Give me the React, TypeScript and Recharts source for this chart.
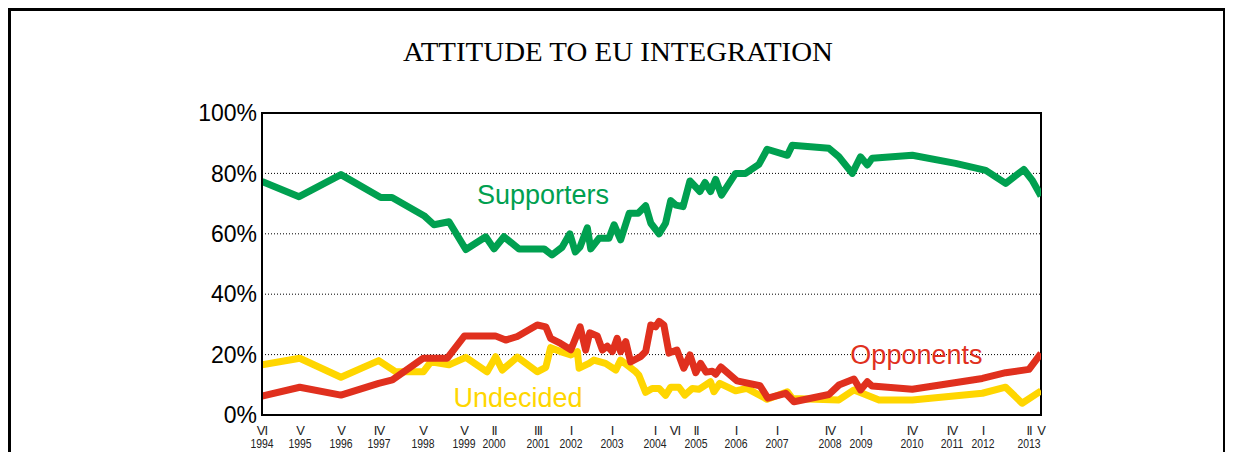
import React from 'react';
import { LineChart, Line, XAxis, YAxis, CartesianGrid, ReferenceArea, ReferenceDot } from 'recharts';

// x values are month indices counted from January 1994 (0 = I 1994)
const supportersMonths = [5, 15.8, 28, 39.6, 42.9, 52.2, 55.1, 59.5, 64.4, 70.2, 72.6, 75.5, 79.9, 87.2, 89.5, 92.4, 94.7, 96.3, 97.7, 99.8, 100.8, 103.2, 106.1, 107.6, 109.5, 112, 114.6, 116.8, 118.3, 120.7, 122.6, 124.1, 125.6, 127.7, 129.7, 132.6, 134.1, 135.7, 137.2, 138.9, 143, 145.9, 149.8, 152.2, 158.1, 159.5, 170.2, 173.1, 177, 179.4, 181.4, 182.8, 194.5, 207.1, 215.9, 221.7, 227, 229.4, 232];
const supportersValues = [77.3, 72.3, 79.6, 72, 72, 66, 63, 64, 54.8, 59, 55, 59, 55, 55, 53, 55.5, 60, 54, 55.7, 62, 55, 58.5, 58.5, 63, 58, 66.8, 66.8, 69.3, 63.5, 60, 63.5, 71, 69.5, 69, 77.5, 74, 77, 74, 78, 72.8, 80, 80, 83, 88, 86, 89.3, 88.3, 85.5, 80, 85.5, 82.8, 85, 86, 83.3, 81, 76.7, 81.3, 77.8, 72.5];

const opponentsMonths = [5, 16, 28, 39, 43, 52, 59, 64, 73, 76, 79.4, 85.2, 87.7, 89.1, 92, 95, 97.7, 99.3, 100.5, 102.7, 104.2, 105.6, 107.1, 108.5, 109.5, 111, 112.4, 115.3, 116.8, 118.3, 119.7, 120.7, 122.1, 123.6, 125.9, 127.9, 129.7, 131.4, 132.8, 134.4, 136.2, 137.2, 138.7, 143.4, 150.1, 152.4, 157.6, 160, 170.2, 173.1, 177.5, 179.4, 181.4, 182.8, 194.5, 214.9, 221.7, 228.5, 232];
const opponentsValues = [6.3, 9.2, 6.6, 10.5, 11.6, 18.8, 18.8, 26.2, 26.2, 24.8, 26, 29.8, 29.2, 25.4, 23.7, 21.6, 29.2, 21.5, 27.2, 26.2, 21.5, 22.8, 21, 25.4, 21, 24.3, 17.6, 19.3, 21, 29.8, 29.2, 31, 29.8, 20.5, 21.5, 15.5, 19.9, 14, 17.1, 14.2, 14.5, 13.5, 15.9, 11.3, 9.7, 5.6, 7.2, 4.4, 6.8, 9.9, 11.9, 8.3, 11, 9.6, 8.5, 12.1, 14, 15.1, 20.4];

const undecidedMonths = [5, 16, 28, 39, 44, 52, 54.2, 59.5, 64.4, 70.6, 73.1, 75, 79.4, 85.2, 87.7, 89.1, 92, 95, 96.9, 97.4, 100.3, 101.7, 105.1, 108.1, 109.5, 113.9, 114.8, 116.8, 118.7, 120.7, 122.6, 124.1, 126.5, 128.2, 130.4, 132.3, 135.7, 136.7, 138.4, 143, 146.3, 152.2, 158.1, 159.5, 173.1, 177.5, 179.9, 184.8, 194.5, 214.9, 221.7, 226.5, 232];
const undecidedValues = [16.6, 18.8, 12.5, 18, 14.3, 14.3, 17.6, 16.6, 19.1, 14.3, 19.3, 14.9, 19.2, 14.3, 15.8, 22.3, 21, 19.9, 21, 15.5, 17.1, 18.2, 17.1, 14.9, 18.2, 14.3, 13.2, 7.5, 8.8, 8.8, 6.5, 9.2, 9.2, 6.6, 8.8, 8.5, 11, 7.7, 10.5, 8, 8.8, 5.2, 7.7, 5.5, 5, 8.3, 7.2, 5, 5, 7.2, 9.2, 3.9, 8];

const tickMonths = [5, 16, 28, 39, 52, 64, 72.5, 85.5, 95, 107, 119.5, 125.3, 131.5, 143, 155, 170.5, 179.5, 194.5, 206, 215, 228.5, 232];
const tickRomans = ['VI', 'V', 'V', 'IV', 'V', 'V', 'II', 'III', 'I', 'I', 'I', 'VI', 'II', 'I', 'I', 'IV', 'I', 'IV', 'IV', 'I', 'II', 'V'];
const tickYears = ['1994', '1995', '1996', '1997', '1998', '1999', '2000', '2001', '2002', '2003', '2004', '', '2005', '2006', '2007', '2008', '2009', '2010', '2011', '2012', '2013', ''];

const yTicks = [0, 20, 40, 60, 80, 100];

const build = (ms: number[], vs: number[]) => ms.map((m, i) => ({ m, v: vs[i] }));
const supportersData = build(supportersMonths, supportersValues);
const opponentsData = build(opponentsMonths, opponentsValues);
const undecidedData = build(undecidedMonths, undecidedValues);

const GREEN = '#00A050';
const RED = '#E0301E';
const YELLOW = '#FFD600';
const SANS = '"Liberation Sans", Arial, sans-serif';

const XTick = (props: any) => {
  const { x, y, payload } = props;
  const i = tickMonths.indexOf(payload.value);
  return (
    <g transform={`translate(${Math.round(x)},${y})`}>
      <text textAnchor="middle" y={12} fontSize={13} fontFamily={SANS} fill="#222" letterSpacing={-1}>
        {tickRomans[i]}
      </text>
      <text transform="scale(0.8,1)" textAnchor="middle" y={25} fontSize={13} fontFamily={SANS} fill="#222">
        {tickYears[i]}
      </text>
    </g>
  );
};

export default function App() {
  return (
    <div style={{ position: 'relative', width: 1217, height: 444, overflow: 'hidden' }}>
      <div
        style={{
          position: 'absolute',
          left: 0,
          top: 0,
          width: 1218,
          height: 470,
          boxSizing: 'border-box',
          borderTop: '3px solid #000',
          borderLeft: '3px solid #000',
          borderRight: '3px solid #000',
        }}
      />
      <svg width={1217} height={80} style={{ position: 'absolute', left: 0, top: 0 }}>
        <text x={610} y={53} textAnchor="middle" fontSize={27} fontFamily='"Liberation Serif", "Times New Roman", serif' fill="#000" textLength={430} lengthAdjust="spacingAndGlyphs">
          ATTITUDE TO EU INTEGRATION
        </text>
      </svg>
      <div style={{ position: 'absolute', left: 0, top: 0 }}>
        <LineChart width={1217} height={444} margin={{ top: 105, right: 184, bottom: 0, left: 184 }}>
          <CartesianGrid vertical={false} stroke="#000" strokeDasharray="1 2" />
          <XAxis
            type="number"
            dataKey="m"
            domain={[5, 232]}
            ticks={tickMonths}
            interval={0}
            tick={<XTick />}
            tickLine={false}
            axisLine={{ stroke: '#000', strokeWidth: 2 }}
            height={37}
            allowDataOverflow
          />
          <YAxis
            type="number"
            domain={[0, 100]}
            ticks={yTicks}
            interval={0}
            tickFormatter={(v: number) => `${v}%`}
            tick={{ fontSize: 23, fill: '#000', fontFamily: SANS }}
            tickLine={false}
            tickSize={4}
            tickMargin={1}
            axisLine={{ stroke: '#000', strokeWidth: 2 }}
            width={70}
          />
          <ReferenceArea x1={5} x2={232} y1={0} y2={100} stroke="#000" strokeWidth={2} fill="none" fillOpacity={0} />
          <Line data={undecidedData} dataKey="v" type="linear" stroke={YELLOW} strokeWidth={7} dot={false} isAnimationActive={false} strokeLinejoin="round" />
          <Line data={opponentsData} dataKey="v" type="linear" stroke={RED} strokeWidth={7} dot={false} isAnimationActive={false} strokeLinejoin="round" />
          <Line data={supportersData} dataKey="v" type="linear" stroke={GREEN} strokeWidth={7} dot={false} isAnimationActive={false} strokeLinejoin="round" />
          <ReferenceDot x={86.9} y={73.1} r={0} stroke="none" fill="none" label={{ value: 'Supporters', position: 'center', fill: GREEN, fontSize: 27, fontFamily: SANS }} />
          <ReferenceDot x={195.7} y={20.1} r={0} stroke="none" fill="none" label={{ value: 'Opponents', position: 'center', fill: RED, fontSize: 27, fontFamily: SANS }} />
          <ReferenceDot x={79.6} y={5.9} r={0} stroke="none" fill="none" label={{ value: 'Undecided', position: 'center', fill: YELLOW, fontSize: 27, fontFamily: SANS }} />
        </LineChart>
      </div>
    </div>
  );
}
